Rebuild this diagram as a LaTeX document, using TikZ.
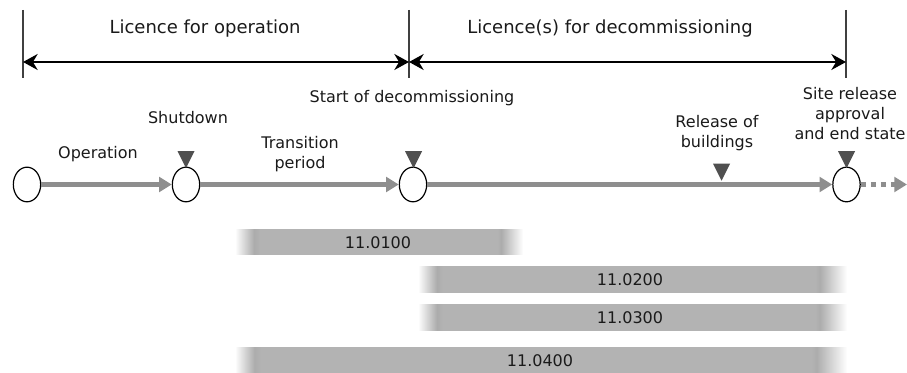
\documentclass[tikz,border=0pt]{standalone}
\usepackage{fontspec}
\setmainfont{DejaVu Sans}
\usetikzlibrary{arrows.meta,shapes.geometric}
\definecolor{flowgray}{HTML}{8E8E8E}
\definecolor{markgray}{HTML}{505050}
\definecolor{bargray}{HTML}{B3B3B3}
\definecolor{bardark}{HTML}{ACACAC}
\definecolor{inkgray}{HTML}{1A1A1A}
% horizontal bar shadings with faded ends (path maps to 25bp..75bp)
\pgfdeclarehorizontalshading{barshort}{100bp}{color(0bp)=(white); color(25bp)=(white);
  color(28.3bp)=(bardark); color(29.4bp)=(bargray); color(70.6bp)=(bargray);
  color(71.2bp)=(bardark); color(75bp)=(white); color(100bp)=(white)}
\pgfdeclarehorizontalshading{barmid}{100bp}{color(0bp)=(white); color(25bp)=(white);
  color(27.2bp)=(bardark); color(27.9bp)=(bargray); color(71.3bp)=(bargray);
  color(71.8bp)=(bardark); color(75bp)=(white); color(100bp)=(white)}
\pgfdeclarehorizontalshading{barlong}{100bp}{color(0bp)=(white); color(25bp)=(white);
  color(26.6bp)=(bardark); color(27.1bp)=(bargray); color(72.1bp)=(bargray);
  color(72.5bp)=(bardark); color(75bp)=(white); color(100bp)=(white)}
\begin{document}
\begin{tikzpicture}[x=0.75pt,y=-0.75pt,
  head/.style={font=\fontsize{13.5}{16}\selectfont, text=inkgray, inner sep=0},
  lbl/.style={font=\fontsize{12}{15}\selectfont, align=center, text=inkgray, inner sep=0},
  barlbl/.style={font=\fontsize{12}{14}\selectfont, text=inkgray, inner sep=0},
  state/.style={ellipse, draw=black, line width=0.9pt, fill=white,
    minimum width=20.5pt, minimum height=26pt, inner sep=0},
  marker/.style={isosceles triangle, isosceles triangle stretches,
    shape border rotate=-90, fill=markgray, minimum width=12.75pt,
    minimum height=12.75pt, inner sep=0},
  flow/.style={flowgray, line width=3.6pt, -{Triangle[length=9.5pt,width=11pt]}},
  span/.style={line width=1.4pt, {Stealth[length=11pt,width=12pt]}-{Stealth[length=11pt,width=12pt]}},
  tick/.style={line width=0.8pt, black!75}]
\useasboundingbox (0,0) rectangle (907,373);

% licence boundaries
\coordinate (lt) at (23,10);  \coordinate (lb) at (23,78);
\coordinate (mt) at (409,10); \coordinate (mb) at (409,78);
\coordinate (rt) at (846,10); \coordinate (rb) at (846,78);
\draw[tick] (lt) -- (lb);
\draw[tick] (mt) -- (mb);
\draw[tick] (rt) -- (rb);
\coordinate (la) at (23,62);
\coordinate (ma) at (409,62);
\coordinate (ra) at (846,62);
\draw[span] (la) -- (ma);
\draw[span] (ma) -- (ra);
\node[head] (lop) at (205,29) {Licence for operation};
\node[head] (ldec) at (610,29) {Licence(s) for decommissioning};

% life-cycle states
\node[state] (s1) at (27,184.5) {};
\node[state] (s2) at (186,184.5) {};
\node[state] (s3) at (413,184.5) {};
\node[state] (s4) at (846.5,184.5) {};
\coordinate (tail) at (907,184.5);
\draw[flow] (s1) -- (s2);
\draw[flow] (s2) -- (s3);
\draw[flow] (s3) -- (s4);
\draw[flow, dash pattern=on 3.75pt off 3.75pt] (s4) -- (tail);

% milestones
\node[marker] (m1) at (186,156.5) {};
\node[marker] (m2) at (413.5,156.5) {};
\node[marker] (m3) at (721.5,169) {};
\node[marker] (m4) at (846.5,156.5) {};

\node[lbl] (t-op) at (98,154) {Operation};
\node[lbl] (t-sd) at (188,118) {Shutdown};
\node[lbl] (t-tr) at (300,154.5) {Transition\\period};
\node[lbl] (t-sdc) at (412,98) {Start of decommissioning};
\node[lbl] (t-rb) at (717,133.5) {Release of\\buildings};
\node[lbl] (t-sr) at (850,114) {Site release\\approval\\and end state};

% activity bars
\shade[shading=barshort] (235,230) rectangle (523,255);
\shade[shading=barmid] (418,267) rectangle (847,293);
\shade[shading=barmid] (418,305) rectangle (847,331);
\shade[shading=barlong] (235,348) rectangle (847,373);
\node[barlbl] (a1) at (378,242.5) {11.0100};
\node[barlbl] (a2) at (630,280) {11.0200};
\node[barlbl] (a3) at (630,318) {11.0300};
\node[barlbl] (a4) at (540,360.5) {11.0400};
\end{tikzpicture}
\end{document}
